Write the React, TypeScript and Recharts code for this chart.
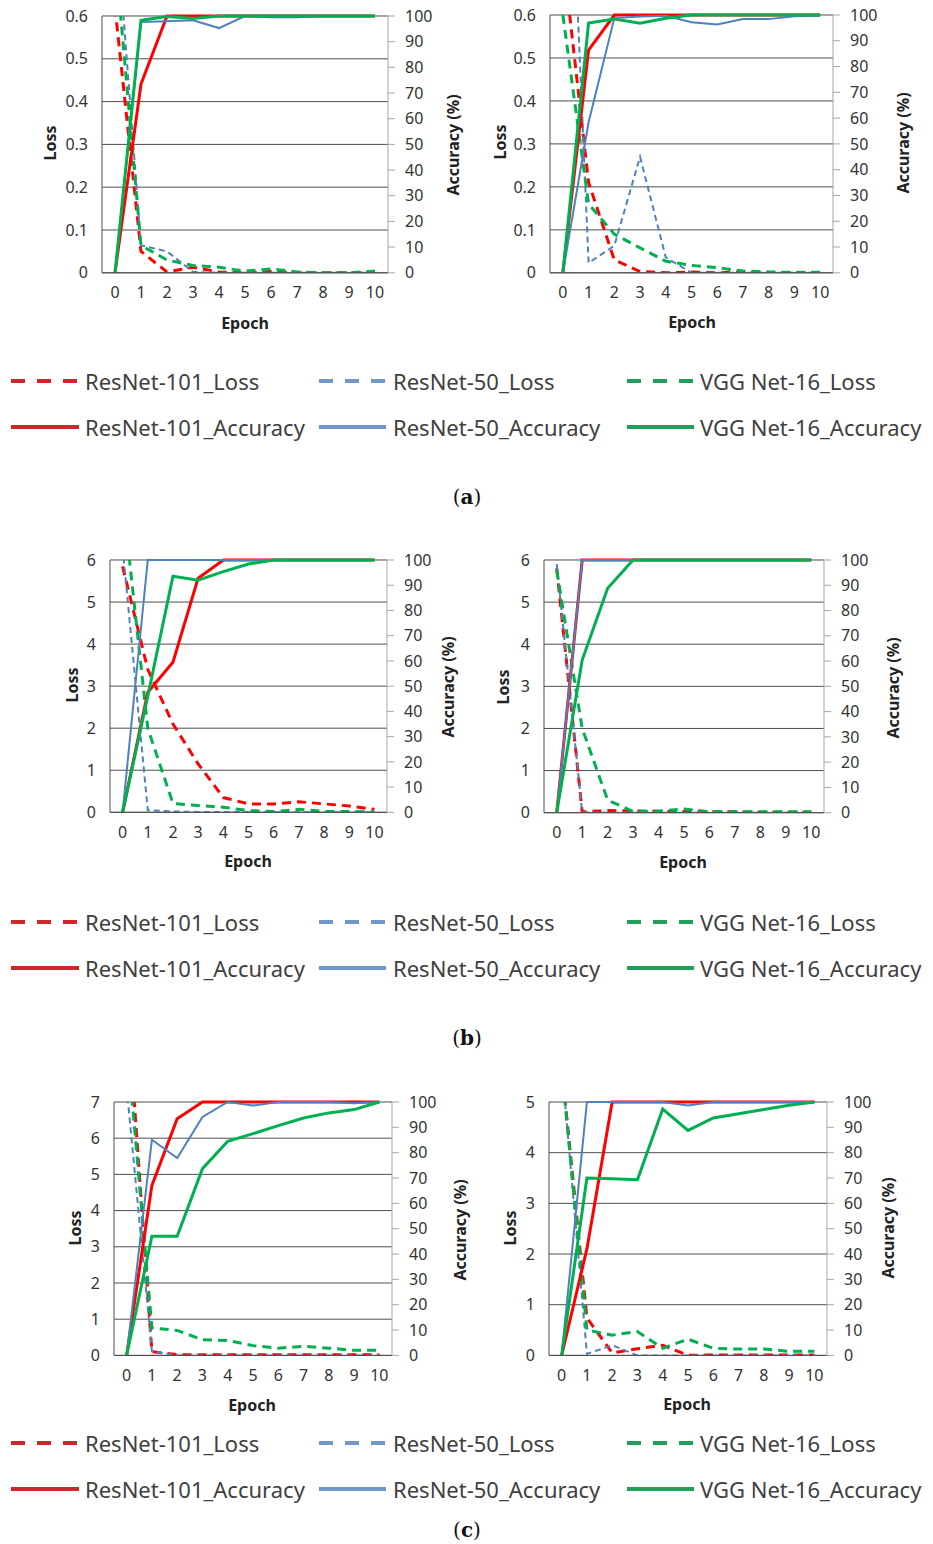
import React from "react";
import { LineChart, Line, XAxis, YAxis, CartesianGrid } from "recharts";

const EPOCHS = [0, 1, 2, 3, 4, 5, 6, 7, 8, 9, 10];
const ACC_TICKS = [0, 10, 20, 30, 40, 50, 60, 70, 80, 90, 100];
const LOSS_TICKS_A = [0, 0.1, 0.2, 0.3, 0.4, 0.5, 0.6];
const LOSS_TICKS_B = [0, 1, 2, 3, 4, 5, 6];
const LOSS_TICKS_C_LEFT = [0, 1, 2, 3, 4, 5, 6, 7];
const LOSS_TICKS_C_RIGHT = [0, 1, 2, 3, 4, 5];

const LEGEND_LOSS = ["ResNet-101_Loss", "ResNet-50_Loss", "VGG Net-16_Loss"];
const LEGEND_ACC = ["ResNet-101_Accuracy", "ResNet-50_Accuracy", "VGG Net-16_Accuracy"];

// (a) left
const aLeftR101Loss = [0.62, 0.05, 0.002, 0.013, 0.002, 0, 0.003, 0, 0, 0, 0];
const aLeftR50Loss = [0.86, 0.064, 0.05, 0.002, 0, 0, 0, 0, 0, 0, 0];
const aLeftVggLoss = [0.75, 0.064, 0.03, 0.017, 0.013, 0.004, 0.009, 0.002, 0, 0, 0.004];
const aLeftR101Acc = [0, 73.5, 100, 100, 100, 100, 100, 100, 100, 100, 100];
const aLeftR50Acc = [0, 97.7, 98, 98.3, 95.3, 100, 99.5, 99.5, 100, 100, 100];
const aLeftVggAcc = [0, 98.3, 99.8, 99, 100, 100, 100, 100, 100, 100, 100];

// (a) right
const aRightR101Loss = [0.74, 0.21, 0.03, 0.003, 0, 0.002, 0, 0.002, 0, 0, 0];
const aRightR50Loss = [1.41, 0.023, 0.063, 0.27, 0.036, 0, 0, 0, 0, 0, 0];
const aRightVggLoss = [0.6, 0.16, 0.09, 0.058, 0.027, 0.017, 0.012, 0.004, 0.002, 0.001, 0.001];
const aRightR101Acc = [0, 86.4, 100, 100, 100, 100, 100, 100, 100, 100, 100];
const aRightR50Acc = [0, 58.4, 98.8, 99.4, 99.7, 97.2, 96.3, 98.4, 98.4, 99.5, 99.7];
const aRightVggAcc = [0, 96.9, 98.4, 96.8, 98.7, 100, 100, 100, 100, 100, 100];

// (b) left
const bLeftR101Loss = [5.85, 3.4, 2.1, 1.15, 0.35, 0.2, 0.2, 0.25, 0.2, 0.15, 0.07];
const bLeftR50Loss = [6.3, 0.05, 0.02, 0.01, 0.01, 0.01, 0, 0, 0, 0, 0];
const bLeftVggLoss = [7.5, 2.0, 0.21, 0.16, 0.12, 0.04, 0.02, 0.07, 0.02, 0.02, 0.01];
const bLeftR101Acc = [0, 47.6, 59.5, 92.8, 100, 100, 100, 100, 100, 100, 100];
const bLeftR50Acc = [0, 100, 100, 100, 100, 100, 100, 100, 100, 100, 100];
const bLeftVggAcc = [0, 46, 93.6, 92, 95.4, 98.4, 100, 100, 100, 100, 100];

// (b) right
const bRightR101Loss = [5.8, 0.02, 0.05, 0.04, 0.03, 0.03, 0.02, 0.02, 0.01, 0.01, 0.01];
const bRightR50Loss = [5.9, 0.01, 0, 0, 0, 0, 0, 0, 0, 0, 0];
const bRightVggLoss = [5.76, 2.0, 0.3, 0.03, 0.04, 0.09, 0.02, 0.02, 0.02, 0.02, 0.02];
const bRightR101Acc = [0, 100, 100, 100, 100, 100, 100, 100, 100, 100, 100];
const bRightR50Acc = [0, 100, 100, 100, 100, 100, 100, 100, 100, 100, 100];
const bRightVggAcc = [0, 60.4, 88.8, 100, 100, 100, 100, 100, 100, 100, 100];

// (c) left
const cLeftR101Loss = [10, 0.1, 0.02, 0.02, 0.02, 0.02, 0.02, 0.02, 0.02, 0.02, 0.02];
const cLeftR50Loss = [7.4, 0.11, 0, 0, 0, 0, 0, 0, 0, 0, 0];
const cLeftVggLoss = [8.8, 0.76, 0.69, 0.43, 0.41, 0.27, 0.2, 0.25, 0.2, 0.14, 0.14];
const cLeftR101Acc = [0, 67.1, 93.4, 100, 100, 100, 100, 100, 100, 100, 100];
const cLeftR50Acc = [0, 85.1, 77.9, 94.1, 100, 98.6, 100, 100, 100, 99.5, 100];
const cLeftVggAcc = [0, 47, 47, 73.7, 84.5, 87.5, 90.7, 93.7, 95.7, 97, 100];

// (c) right
const cRightR101Loss = [5.7, 0.74, 0.05, 0.13, 0.2, 0, 0.01, 0.01, 0.01, 0.01, 0.01];
const cRightR50Loss = [5.76, 0.03, 0.2, 0, 0, 0, 0, 0, 0, 0, 0];
const cRightVggLoss = [5.7, 0.5, 0.4, 0.47, 0.14, 0.32, 0.14, 0.125, 0.125, 0.08, 0.08];
const cRightR101Acc = [0, 42, 100, 100, 100, 100, 100, 100, 100, 100, 100];
const cRightR50Acc = [0, 100, 100, 100, 100, 98.6, 100, 100, 100, 100, 100];
const cRightVggAcc = [0, 70, 69.7, 69.3, 97.2, 88.8, 93.7, 95.4, 97, 98.7, 100];

const RED = "#ff0000";
const BLUE = "#4f81bd";
const GREEN = "#00b050";

const SERIES = [
  { key: "r101Loss", axis: "loss", color: RED, width: 3, dash: "9 6" },
  { key: "r50Loss", axis: "loss", color: BLUE, width: 2, dash: "6 4" },
  { key: "vggLoss", axis: "loss", color: GREEN, width: 3, dash: "9 6" },
  { key: "r101Acc", axis: "acc", color: RED, width: 3, dash: undefined },
  { key: "r50Acc", axis: "acc", color: BLUE, width: 2, dash: undefined },
  { key: "vggAcc", axis: "acc", color: GREEN, width: 3, dash: undefined },
];

function makeRows(s: Record<string, number[]>) {
  return EPOCHS.map((epoch, i) => {
    const row: Record<string, number> = { epoch };
    Object.keys(s).forEach((k) => (row[k] = s[k][i]));
    return row;
  });
}

const tickStyle = { fill: "#333", fontSize: 16, fontFamily: "Noto Sans" };
const labelFont = { fontFamily: "Noto Sans", fontWeight: 700, fontSize: 16, color: "#222" };

type Plot = { l: number; t: number; r: number; b: number };

function AxisText({ x, y, text, rotate }: { x: number; y: number; text: string; rotate?: boolean }) {
  return (
    <div
      style={{
        ...labelFont,
        position: "absolute",
        left: x,
        top: y,
        whiteSpace: "nowrap",
        transform: `translate(-50%, -50%)${rotate ? " rotate(-90deg)" : ""}`,
      }}
    >
      {text}
    </div>
  );
}

function LossAccChart({
  plot,
  rows,
  lossMax,
  lossTicks,
  lossLabel,
  accLabel,
  epochLabel,
}: {
  plot: Plot;
  rows: Record<string, number>[];
  lossMax: number;
  lossTicks: number[];
  lossLabel: [number, number];
  accLabel: [number, number];
  epochLabel: [number, number];
}) {
  const padL = 70;
  const padR = 80;
  const padT = 10;
  const padB = 40;
  const w = plot.r - plot.l + padL + padR;
  const h = plot.b - plot.t + padT + padB;
  return (
    <>
      <div style={{ position: "absolute", left: plot.l - padL, top: plot.t - padT }}>
        <LineChart width={w} height={h} data={rows} margin={{ top: padT, right: 0, bottom: 0, left: 0 }}>
          <CartesianGrid yAxisId="loss" vertical={false} stroke="#4d4d4d" />
          <XAxis
            dataKey="epoch"
            type="number"
            domain={[-0.5, 10.5]}
            ticks={EPOCHS}
            interval={0}
            height={padB}
            tickLine={false}
            tickSize={0}
            tickMargin={14}
            axisLine={{ stroke: "#4d4d4d" }}
            tick={tickStyle}
          />
          <YAxis
            yAxisId="loss"
            orientation="left"
            width={padL}
            domain={[0, lossMax]}
            ticks={lossTicks}
            allowDataOverflow
            tickLine={false}
            tickSize={0}
            tickMargin={14}
            axisLine={{ stroke: "#4d4d4d" }}
            tick={tickStyle}
          />
          <YAxis
            yAxisId="acc"
            orientation="right"
            width={padR}
            domain={[0, 100]}
            ticks={ACC_TICKS}
            tickSize={7}
            tickMargin={10}
            tickLine={{ stroke: "#a6a6a6" }}
            axisLine={{ stroke: "#a6a6a6" }}
            tick={{ ...tickStyle, textAnchor: "start" }}
          />
          {SERIES.map((s) => (
            <Line
              key={s.key}
              yAxisId={s.axis}
              type="linear"
              dataKey={s.key}
              stroke={s.color}
              strokeWidth={s.width}
              strokeDasharray={s.dash}
              dot={false}
              activeDot={false}
              isAnimationActive={false}
            />
          ))}
        </LineChart>
      </div>
      <AxisText x={lossLabel[0]} y={lossLabel[1]} text="Loss" rotate />
      <AxisText x={accLabel[0]} y={accLabel[1]} text="Accuracy (%)" rotate />
      <AxisText x={epochLabel[0]} y={epochLabel[1]} text="Epoch" />
    </>
  );
}

const LEGEND_COLORS = ["#d0262b", "#6f97c9", "#1f9f57"];
const LEGEND_COLS = [
  { x1: 11, x2: 79, tx: 85 },
  { x1: 319, x2: 386, tx: 393 },
  { x1: 627, x2: 694, tx: 700 },
];

function LegendRows({ y1, y2 }: { y1: number; y2: number }) {
  const rows = [
    { y: y1, names: LEGEND_LOSS, dashed: true },
    { y: y2, names: LEGEND_ACC, dashed: false },
  ];
  return (
    <>
      {rows.map((row) =>
        row.names.map((name, i) => {
          const c = LEGEND_COLS[i];
          return (
            <React.Fragment key={name}>
              <svg
                style={{ position: "absolute", left: c.x1, top: row.y - 4 }}
                width={c.x2 - c.x1}
                height={8}
              >
                <line
                  x1={0}
                  y1={4}
                  x2={c.x2 - c.x1}
                  y2={4}
                  stroke={LEGEND_COLORS[i]}
                  strokeWidth={4}
                  strokeDasharray={row.dashed ? "14 12" : undefined}
                />
              </svg>
              <div
                style={{
                  position: "absolute",
                  left: c.tx,
                  top: row.y - 16,
                  height: 32,
                  lineHeight: "32px",
                  fontFamily: "Noto Sans",
                  fontSize: 22,
                  color: "#404040",
                  whiteSpace: "nowrap",
                }}
              >
                {name}
              </div>
            </React.Fragment>
          );
        })
      )}
    </>
  );
}

function Caption({ y, letter }: { y: number; letter: string }) {
  return (
    <div
      style={{
        position: "absolute",
        left: 467,
        top: y,
        transform: "translate(-50%, -50%)",
        fontFamily: "DejaVu Serif, serif",
        fontSize: 20,
        color: "#111",
      }}
    >
      (<b>{letter}</b>)
    </div>
  );
}

export default function App() {
  return (
    <div style={{ position: "absolute", left: 0, top: 0, width: 933, height: 1544, background: "#fff" }}>
      <LossAccChart
        plot={{ l: 102, t: 15.5, r: 388, b: 272.3 }}
        rows={makeRows({
          r101Loss: aLeftR101Loss,
          r50Loss: aLeftR50Loss,
          vggLoss: aLeftVggLoss,
          r101Acc: aLeftR101Acc,
          r50Acc: aLeftR50Acc,
          vggAcc: aLeftVggAcc,
        })}
        lossMax={0.6}
        lossTicks={LOSS_TICKS_A}
        lossLabel={[50, 143]}
        accLabel={[453, 145]}
        epochLabel={[245, 323]}
      />
      <LossAccChart
        plot={{ l: 550, t: 14.5, r: 833, b: 272.3 }}
        rows={makeRows({
          r101Loss: aRightR101Loss,
          r50Loss: aRightR50Loss,
          vggLoss: aRightVggLoss,
          r101Acc: aRightR101Acc,
          r50Acc: aRightR50Acc,
          vggAcc: aRightVggAcc,
        })}
        lossMax={0.6}
        lossTicks={LOSS_TICKS_A}
        lossLabel={[500, 142]}
        accLabel={[903, 143]}
        epochLabel={[692, 322]}
      />
      <LegendRows y1={381} y2={427} />
      <Caption y={497} letter="a" />

      <LossAccChart
        plot={{ l: 110, t: 560, r: 387, b: 812.3 }}
        rows={makeRows({
          r101Loss: bLeftR101Loss,
          r50Loss: bLeftR50Loss,
          vggLoss: bLeftVggLoss,
          r101Acc: bLeftR101Acc,
          r50Acc: bLeftR50Acc,
          vggAcc: bLeftVggAcc,
        })}
        lossMax={6}
        lossTicks={LOSS_TICKS_B}
        lossLabel={[72, 685]}
        accLabel={[448, 687]}
        epochLabel={[248, 861]}
      />
      <LossAccChart
        plot={{ l: 543.5, t: 560, r: 823.5, b: 812.7 }}
        rows={makeRows({
          r101Loss: bRightR101Loss,
          r50Loss: bRightR50Loss,
          vggLoss: bRightVggLoss,
          r101Acc: bRightR101Acc,
          r50Acc: bRightR50Acc,
          vggAcc: bRightVggAcc,
        })}
        lossMax={6}
        lossTicks={LOSS_TICKS_B}
        lossLabel={[503, 687]}
        accLabel={[893, 688]}
        epochLabel={[683, 862]}
      />
      <LegendRows y1={922} y2={968} />
      <Caption y={1038} letter="b" />

      <LossAccChart
        plot={{ l: 113.5, t: 1102.3, r: 391.5, b: 1355.7 }}
        rows={makeRows({
          r101Loss: cLeftR101Loss,
          r50Loss: cLeftR50Loss,
          vggLoss: cLeftVggLoss,
          r101Acc: cLeftR101Acc,
          r50Acc: cLeftR50Acc,
          vggAcc: cLeftVggAcc,
        })}
        lossMax={7}
        lossTicks={LOSS_TICKS_C_LEFT}
        lossLabel={[75, 1228]}
        accLabel={[460, 1230]}
        epochLabel={[252, 1405]}
      />
      <LossAccChart
        plot={{ l: 549, t: 1102.3, r: 827, b: 1355.7 }}
        rows={makeRows({
          r101Loss: cRightR101Loss,
          r50Loss: cRightR50Loss,
          vggLoss: cRightVggLoss,
          r101Acc: cRightR101Acc,
          r50Acc: cRightR50Acc,
          vggAcc: cRightVggAcc,
        })}
        lossMax={5}
        lossTicks={LOSS_TICKS_C_RIGHT}
        lossLabel={[510, 1228]}
        accLabel={[888, 1228]}
        epochLabel={[687, 1404]}
      />
      <LegendRows y1={1443} y2={1489} />
      <Caption y={1530} letter="c" />
    </div>
  );
}
